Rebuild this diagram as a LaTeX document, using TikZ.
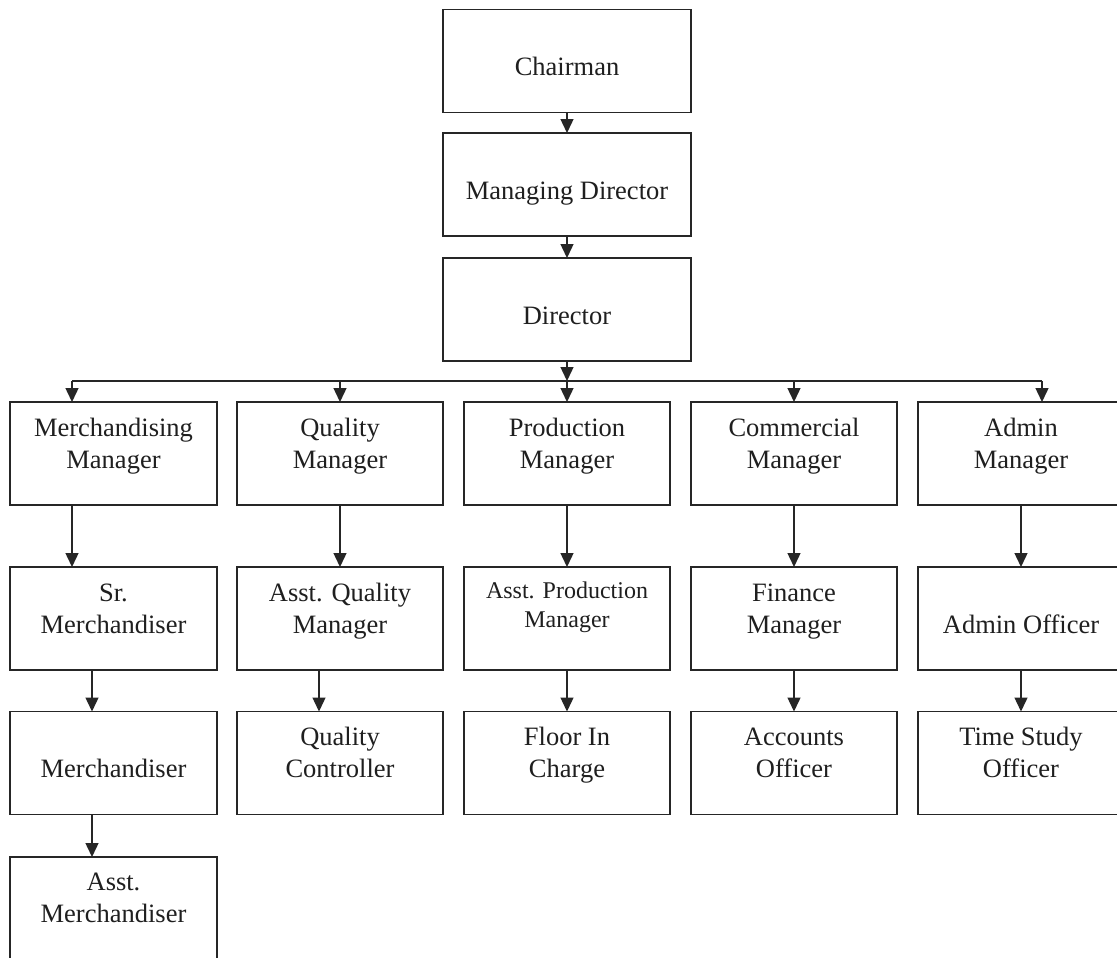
\documentclass[tikz,border=0pt]{standalone}
\usepackage{fontspec}
\setmainfont{Liberation Serif}
\usetikzlibrary{arrows.meta,calc}
\tikzset{
  box/.style={draw=black!85, line width=1.6pt, minimum width=206pt, minimum height=103pt, inner sep=0pt, outer sep=0pt},
  topbox/.style={box, minimum width=248pt},
  lbl/.style={font=\fontsize{26.5}{32}\selectfont, text=black!88, align=center, anchor=base, inner sep=0pt},
  lblsmall/.style={lbl, font=\fontsize{24}{29}\selectfont},
  conn/.style={draw=black!85, line width=1.4pt},
  arr/.style={conn, -{Triangle[width=13pt,length=14pt]}}
}
\begin{document}
\begin{tikzpicture}[x=1pt,y=-1pt]
\clip (0,0) rectangle (1117,958);
\fill[white] (0,0) rectangle (1117,958);
% top chain
\node[topbox] (ch)  at (567,61)    {};
\node[topbox] (md)  at (567,184.5) {};
\node[topbox] (dir) at (567,309.5) {};
% row 1
\node[box, minimum width=207pt] (m1) at (113.5,453.5) {};
\node[box] (q1) at (340,453.5)  {};
\node[box] (p1) at (567,453.5)  {};
\node[box] (c1) at (794,453.5)  {};
\node[box] (a1) at (1021,453.5) {};
% row 2
\node[box, minimum width=207pt] (m2) at (113.5,618.5) {};
\node[box] (q2) at (340,618.5)  {};
\node[box] (p2) at (567,618.5)  {};
\node[box] (c2) at (794,618.5)  {};
\node[box] (a2) at (1021,618.5) {};
% row 3
\node[box, minimum width=207pt] (m3) at (113.5,763) {};
\node[box] (q3) at (340,763)  {};
\node[box] (p3) at (567,763)  {};
\node[box] (c3) at (794,763)  {};
\node[box] (a3) at (1021,763) {};
% row 4
\node[box, minimum width=207pt] (m4) at (113.5,908.5) {};
% labels (anchor = baseline of the last line)
\node[lbl] (tch)  at ([yshift=-66pt]ch.north)  {Chairman};
\node[lbl] (tmd)  at ([yshift=-66pt]md.north)  {Managing Director};
\node[lbl] (tdir) at ([yshift=-66pt]dir.north) {Director};
\node[lbl] (tm1) at ([yshift=-66pt]m1.north) {Merchandising\\Manager};
\node[lbl] (tq1) at ([yshift=-66pt]q1.north) {Quality\\Manager};
\node[lbl] (tp1) at ([yshift=-66pt]p1.north) {Production\\Manager};
\node[lbl] (tc1) at ([yshift=-66pt]c1.north) {Commercial\\Manager};
\node[lbl] (ta1) at ([yshift=-66pt]a1.north) {Admin\\Manager};
\node[lbl] (tm2) at ([yshift=-66pt]m2.north) {Sr.\\Merchandiser};
\node[lbl] (tq2) at ([yshift=-66pt]q2.north) {Asst. Quality\\Manager};
\node[lblsmall] (tp2) at ([yshift=-60pt]p2.north) {Asst. Production\\Manager};
\node[lbl] (tc2) at ([yshift=-66pt]c2.north) {Finance\\Manager};
\node[lbl] (ta2) at ([yshift=-66pt]a2.north) {Admin Officer};
\node[lbl] (tm3) at ([yshift=-66pt]m3.north) {Merchandiser};
\node[lbl] (tq3) at ([yshift=-66pt]q3.north) {Quality\\Controller};
\node[lbl] (tp3) at ([yshift=-66pt]p3.north) {Floor In\\Charge};
\node[lbl] (tc3) at ([yshift=-66pt]c3.north) {Accounts\\Officer};
\node[lbl] (ta3) at ([yshift=-66pt]a3.north) {Time Study\\Officer};
\node[lbl] (tm4) at ([yshift=-65pt]m4.north) {Asst.\\Merchandiser};
% connectors top chain
\draw[arr] (ch.south) -- (md.north);
\draw[arr] (md.south) -- (dir.north);
\coordinate (bus)  at (567,381);
\coordinate (busL) at (72,381);
\coordinate (busR) at (1042,381);
\draw[arr] (dir.south) -- (bus);
\draw[conn] (busL) -- (busR);
\draw[arr] (busL) -- (busL |- m1.north);
\draw[arr] (bus -| q1.north) -- (q1.north);
\draw[arr] (bus) -- (p1.north);
\draw[arr] (bus -| c1.north) -- (c1.north);
\draw[arr] (busR) -- (busR |- a1.north);
% row1 -> row2
\draw[arr] ([xshift=-41.5pt]m1.south) -- ([xshift=-41.5pt]m2.north);
\draw[arr] (q1.south) -- (q2.north);
\draw[arr] (p1.south) -- (p2.north);
\draw[arr] (c1.south) -- (c2.north);
\draw[arr] (a1.south) -- (a2.north);
% row2 -> row3
\draw[arr] ([xshift=-21.5pt]m2.south) -- ([xshift=-21.5pt]m3.north);
\draw[arr] ([xshift=-21pt]q2.south) -- ([xshift=-21pt]q3.north);
\draw[arr] (p2.south) -- (p3.north);
\draw[arr] (c2.south) -- (c3.north);
\draw[arr] (a2.south) -- (a3.north);
% row3 -> row4
\draw[arr] ([xshift=-21.5pt]m3.south) -- ([xshift=-21.5pt]m4.north);
\end{tikzpicture}
\end{document}
